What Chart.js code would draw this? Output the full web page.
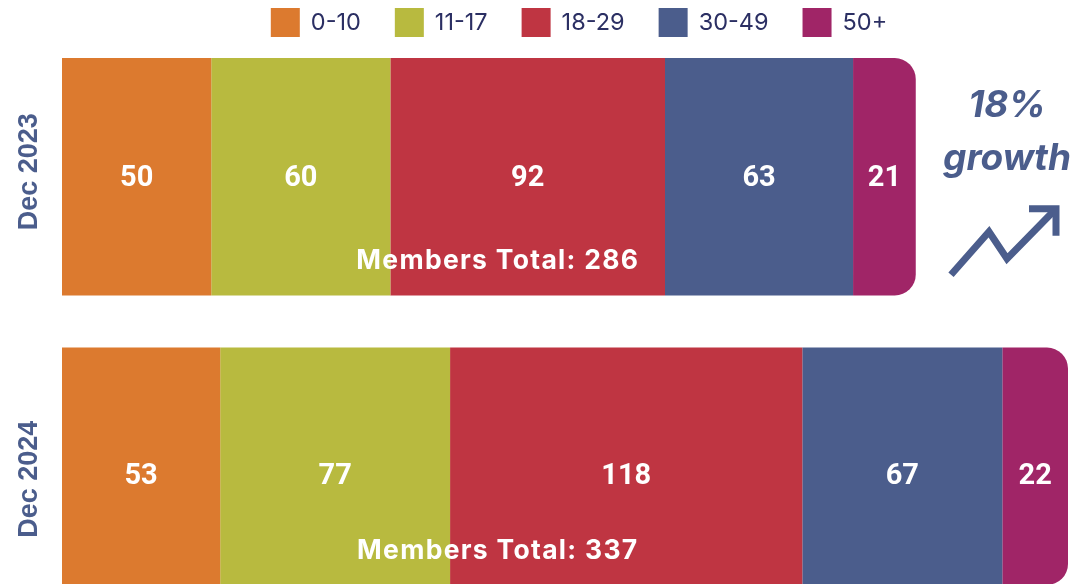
<!DOCTYPE html>
<html>
<head>
<meta charset="utf-8">
<script src="https://cdn.jsdelivr.net/npm/chart.js@4.4.0/dist/chart.umd.min.js"></script>
<style>
  html, body { margin: 0; padding: 0; background: #fff; overflow: hidden; }
  #wrap { position: relative; width: 1079px; height: 611px; }
</style>
</head>
<body>
<div id="wrap"><canvas id="chart" width="1079" height="611"></canvas></div>
<script>
// ── data ──
const periods   = ['Dec 2023', 'Dec 2024'];
const ageGroups = ['0-10', '11-17', '18-29', '30-49', '50+'];
const colors    = ['#DC7A2F', '#B8BA3F', '#BF3542', '#4B5D8C', '#A02567'];
const members = [
  [50, 53],   // 0-10
  [60, 77],   // 11-17
  [92, 118],  // 18-29
  [63, 67],   // 30-49
  [21, 22]    // 50+
];
const totals = periods.map((_, i) => members.reduce((s, g) => s + g[i], 0));
const growth = Math.round((totals[1] / totals[0] - 1) * 100);

const BLUE = '#4B5D8C';
const NAVY = '#2B2F63';

// value labels sit slightly lower on the second row in the original
const valueShift = [2, 10];
const sideShift  = [-5, 13];

// ── legend drawn on top ──
const topLegend = {
  id: 'topLegend',
  afterDraw(chart) {
    const ctx = chart.ctx;
    const box = 29, gap = 11, pad = 34;
    ctx.save();
    ctx.font = '400 23.5px Inter';
    const widths = ageGroups.map(t => box + gap + ctx.measureText(t).width);
    const total = widths.reduce((a, b) => a + b, 0) + pad * (widths.length - 1);
    let x = 579 - total / 2;
    ageGroups.forEach((t, i) => {
      ctx.fillStyle = colors[i];
      ctx.fillRect(x, 8, box, box);
      ctx.fillStyle = NAVY;
      ctx.textBaseline = 'middle';
      ctx.textAlign = 'left';
      ctx.fillText(t, x + box + gap, 23);
      x += widths[i] + pad;
    });
    ctx.restore();
  }
};

// ── numbers in the segments, totals, side labels ──
const barText = {
  id: 'barText',
  afterDatasetsDraw(chart) {
    const ctx = chart.ctx;
    const xs = chart.scales.x;
    ctx.save();
    ctx.textAlign = 'center';
    ctx.textBaseline = 'middle';
    ctx.fillStyle = '#fff';
    ctx.font = '700 29px Roboto';
    chart.data.datasets.forEach((ds, d) => {
      chart.getDatasetMeta(d).data.forEach((bar, i) => {
        ctx.fillText(ds.data[i], (bar.x + bar.base) / 2, bar.y + valueShift[i]);
      });
    });

    const first = chart.getDatasetMeta(0).data;
    ctx.font = '700 26.5px Inter';
    ctx.letterSpacing = '1.3px';
    first.forEach((bar, i) => {
      const bottom = bar.y + bar.height / 2;
      ctx.fillText('Members Total: ' + totals[i], xs.getPixelForValue(146), bottom - 34);
    });
    ctx.letterSpacing = '0px';

    ctx.fillStyle = BLUE;
    ctx.font = '700 27px "Liberation Sans"';
    first.forEach((bar, i) => {
      ctx.save();
      ctx.translate(30, bar.y + sideShift[i]);
      ctx.rotate(-Math.PI / 2);
      ctx.fillText(periods[i], 0, 0);
      ctx.restore();
    });
    ctx.restore();
  }
};

// ── growth note with zigzag arrow ──
const growthNote = {
  id: 'growthNote',
  afterDraw(chart) {
    const ctx = chart.ctx;
    const cx = chart.chartArea.right - 61;
    const y0 = chart.getDatasetMeta(0).data[0].y;
    ctx.save();
    ctx.fillStyle = BLUE;
    ctx.textAlign = 'center';
    ctx.textBaseline = 'alphabetic';
    ctx.font = 'italic 700 37px Inter';
    ctx.fillText(growth + '%', cx, y0 - 60);
    ctx.fillText('growth', cx, y0 - 7);

    ctx.strokeStyle = BLUE;
    ctx.lineWidth = 7;
    ctx.lineJoin = 'miter';
    ctx.beginPath();
    ctx.moveTo(cx - 56, y0 + 98);
    ctx.lineTo(cx - 18, y0 + 55);
    ctx.lineTo(cx, y0 + 82);
    ctx.lineTo(cx + 47, y0 + 34);
    ctx.stroke();
    ctx.beginPath();
    ctx.moveTo(cx + 22, y0 + 32);
    ctx.lineTo(cx + 49, y0 + 32);
    ctx.lineTo(cx + 49, y0 + 59);
    ctx.stroke();
    ctx.restore();
  }
};

const chart = new Chart(document.getElementById('chart').getContext('2d'), {
  type: 'bar',
  data: {
    labels: periods,
    datasets: ageGroups.map((g, i) => ({
      label: g,
      data: members[i],
      backgroundColor: colors[i],
      borderWidth: 0,
      borderRadius: 21,
      borderSkipped: 'start',
      barPercentage: 1,
      categoryPercentage: 0.82
    }))
  },
  options: {
    indexAxis: 'y',
    responsive: false,
    animation: false,
    devicePixelRatio: 1,
    layout: { padding: { left: 62, right: 11, top: 32, bottom: 0 } },
    plugins: { legend: { display: false }, tooltip: { enabled: false } },
    scales: {
      x: { stacked: true, display: false, min: 0, max: Math.max(...totals) },
      y: { stacked: true, display: false }
    }
  },
  plugins: [topLegend, barText, growthNote]
});
</script>
</body>
</html>
